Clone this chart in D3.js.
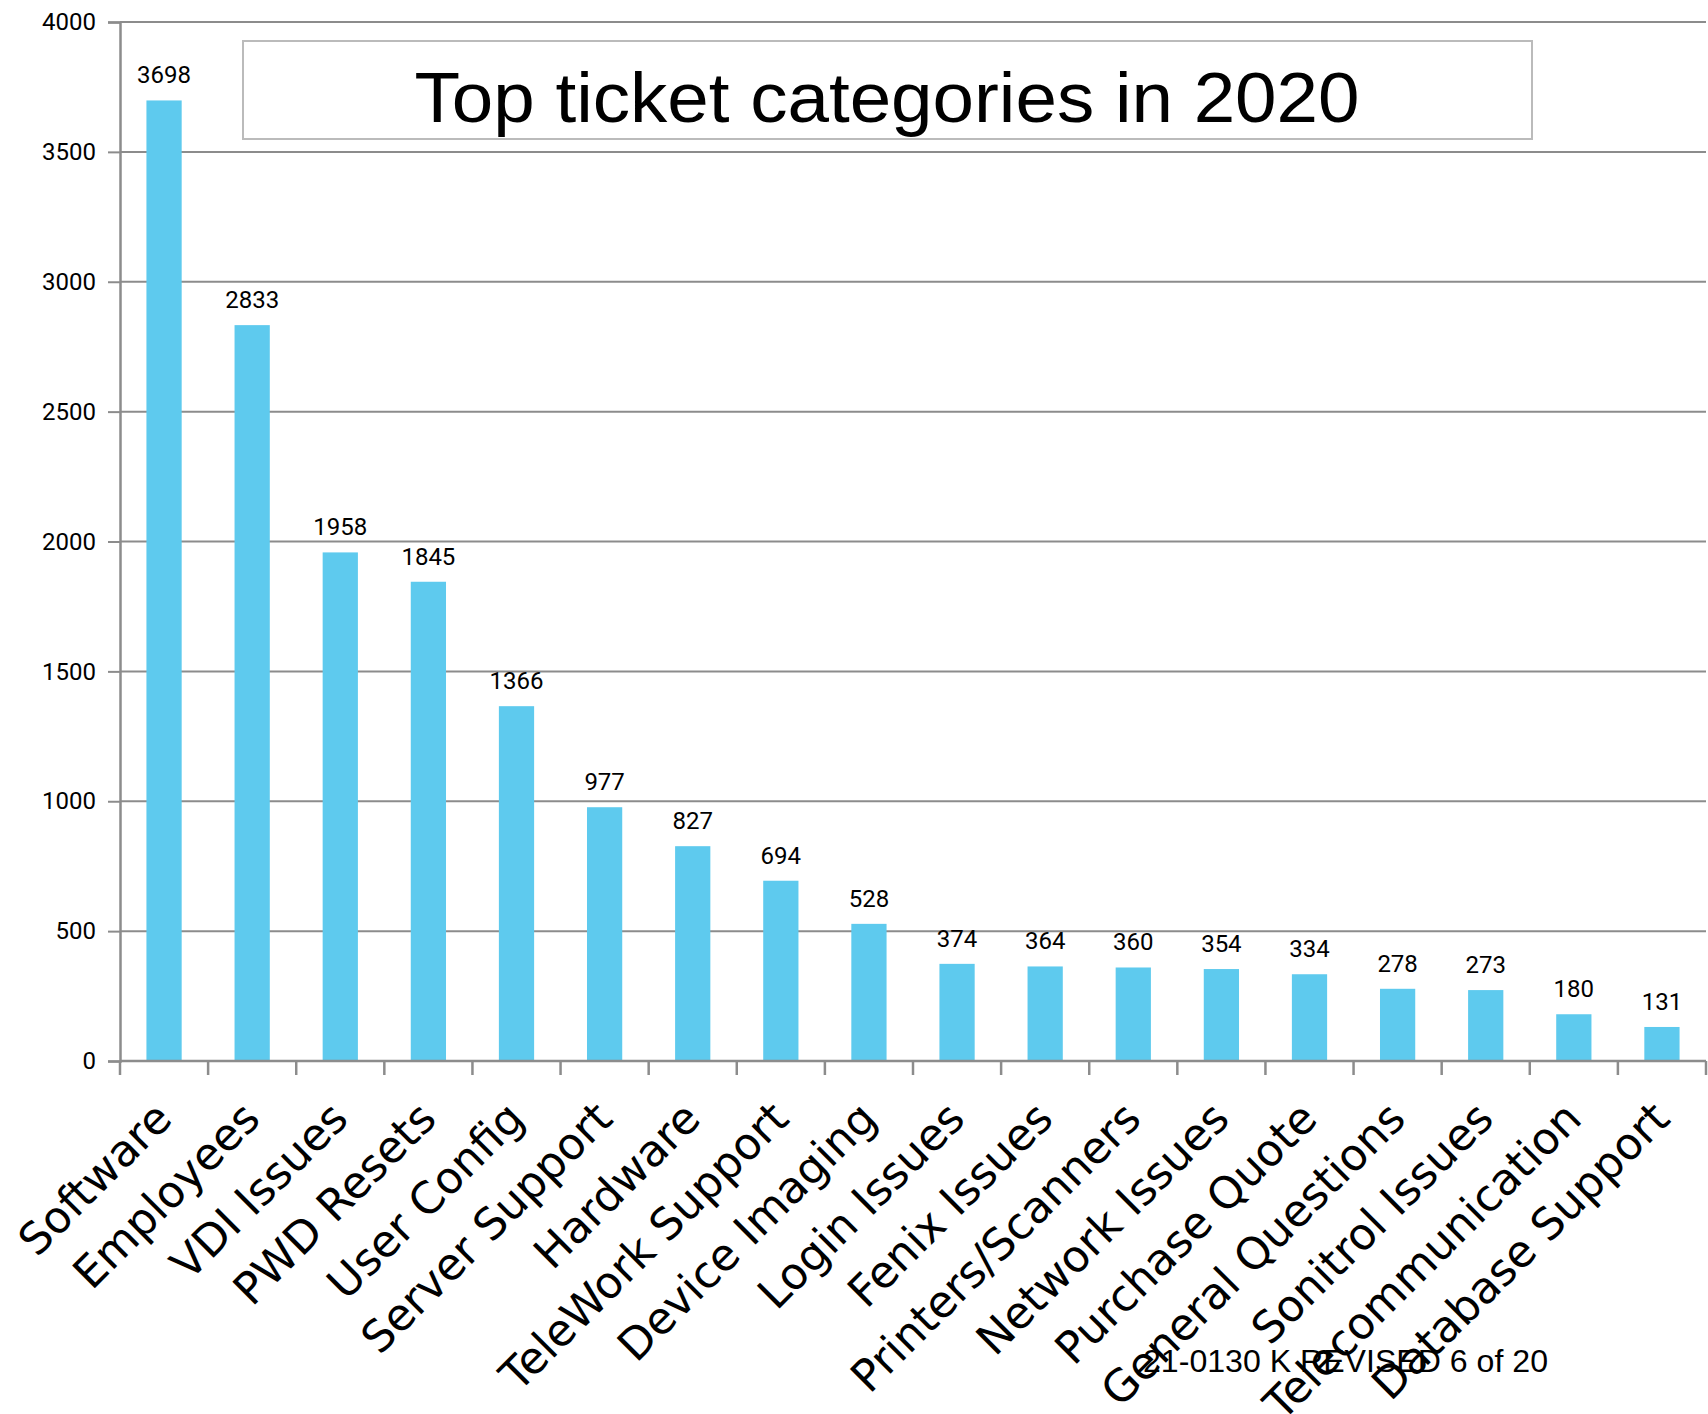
<html>
<head>
<meta charset="utf-8">
<title>Top ticket categories in 2020</title>
<style>
body { margin: 0; background: #fff; }
svg { display: block; }
.ytick text, .val { font-family: Roboto, "Liberation Sans", sans-serif; font-size: 24px; fill: #000; }
.xlab { font-family: "DejaVu Sans", "Noto Sans", sans-serif; font-size: 44px; fill: #000; }
</style>
</head>
<body>
<div id="vis"></div>
<script src="https://d3js.org/d3.v7.min.js"></script>
<script>

var categories = ["Software", "Employees", "VDI Issues", "PWD Resets", "User Config",
  "Server Support", "Hardware", "TeleWork Support", "Device Imaging", "Login Issues",
  "Fenix Issues", "Printers/Scanners", "Network Issues", "Purchase Quote",
  "General Questions", "Sonitrol Issues", "Telecommunication", "Database Support"];
var tickets = [3698, 2833, 1958, 1845, 1366, 977, 827, 694, 528, 374, 364, 360, 354, 334, 278, 273, 180, 131];
var yTicks = [0, 500, 1000, 1500, 2000, 2500, 3000, 3500, 4000];
var title = "Top ticket categories in 2020";
var footer = "21-0130 K REVISED 6 of 20";

var W = 1708, H = 1414;
var plotLeft = 120, plotRight = 1706, plotTop = 22, plotBottom = 1061;
var gray = "#8c8c8c";

var svg = d3.select("#vis").append("svg")
    .attr("width", W)
    .attr("height", H);

var x = d3.scaleBand()
    .domain(categories)
    .range([plotLeft, plotRight])
    .paddingInner(0.6)
    .paddingOuter(0.3);

var y = d3.scaleLinear()
    .domain([0, 4000])
    .range([plotBottom, plotTop]);

// gridlines
svg.append("g").selectAll("line")
    .data(yTicks).enter()
    .append("line")
    .attr("x1", plotLeft).attr("x2", plotRight)
    .attr("y1", function(d) { return y(d); })
    .attr("y2", function(d) { return y(d); })
    .attr("stroke", gray)
    .attr("stroke-width", 2);

// y axis
var yAxis = svg.append("g")
    .attr("class", "ytick")
    .attr("transform", "translate(" + plotLeft + ",0)")
    .call(d3.axisLeft(y).tickValues(yTicks).tickFormat(d3.format("d")).tickSize(12).tickPadding(12));
yAxis.selectAll("line").attr("stroke", gray).attr("stroke-width", 2);
yAxis.select(".domain").attr("stroke", gray).attr("stroke-width", 2.5);
yAxis.selectAll("text").attr("font-size", null).attr("font-family", null).attr("fill", "#000");
yAxis.attr("font-size", null).attr("font-family", null);

// x axis ticks at band edges
var step = x.step();
var edges = categories.map(function(d) { return x(d) + x.bandwidth() / 2 - step / 2; });
edges.push(edges[edges.length - 1] + step);
svg.append("g").selectAll("line")
    .data(edges).enter()
    .append("line")
    .attr("x1", function(d) { return d; })
    .attr("x2", function(d) { return d; })
    .attr("y1", plotBottom).attr("y2", plotBottom + 14)
    .attr("stroke", gray)
    .attr("stroke-width", 2.5);

// bars
svg.append("g").selectAll("rect")
    .data(tickets).enter()
    .append("rect")
    .attr("x", function(d, i) { return x(categories[i]); })
    .attr("y", function(d) { return y(d); })
    .attr("width", x.bandwidth())
    .attr("height", function(d) { return y(0) - y(d); })
    .attr("fill", "#5ecaee");

svg.append("line")
    .attr("x1", plotLeft).attr("x2", plotRight)
    .attr("y1", plotBottom).attr("y2", plotBottom)
    .attr("stroke", gray)
    .attr("stroke-width", 2.5);

// value labels
svg.append("g").selectAll("text")
    .data(tickets).enter()
    .append("text")
    .attr("class", "val")
    .attr("x", function(d, i) { return x(categories[i]) + x.bandwidth() / 2; })
    .attr("y", function(d) { return y(d) - 17; })
    .attr("text-anchor", "middle")
    .text(function(d) { return d; });

// category labels
svg.append("g").selectAll("text")
    .data(categories).enter()
    .append("text")
    .attr("class", "xlab")
    .attr("text-anchor", "end")
    .attr("transform", function(d) {
      return "translate(" + (x(d) + x.bandwidth() / 2 + 10) + "," + (plotBottom + 60) + ") rotate(-45)";
    })
    .text(function(d) { return d; });

// title box
svg.append("rect")
    .attr("x", 243).attr("y", 41)
    .attr("width", 1289).attr("height", 98)
    .attr("fill", "#fff")
    .attr("stroke", "#bbbbbb")
    .attr("stroke-width", 2);

svg.append("text")
    .attr("x", 887).attr("y", 122)
    .attr("text-anchor", "middle")
    .attr("font-family", "'Liberation Sans', Arial, sans-serif")
    .attr("font-size", 70)
    .attr("textLength", 945)
    .attr("lengthAdjust", "spacingAndGlyphs")
    .text(title);

svg.append("text")
    .attr("x", 1143).attr("y", 1372)
    .attr("font-family", "'Liberation Sans', Arial, sans-serif")
    .attr("font-size", 31)
    .attr("textLength", 405)
    .attr("lengthAdjust", "spacingAndGlyphs")
    .text(footer);

</script>
</body>
</html>
